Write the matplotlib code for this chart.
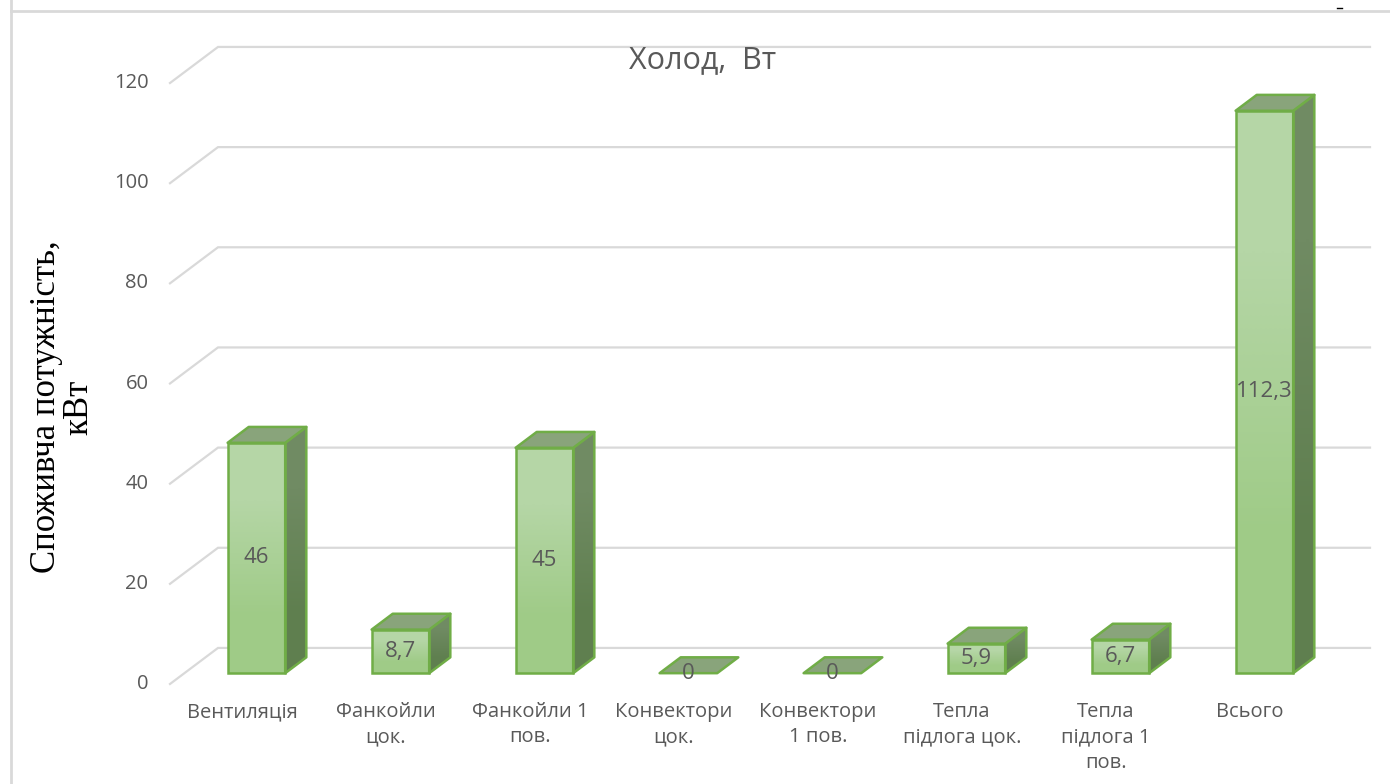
import matplotlib
matplotlib.use("Agg")
import matplotlib.pyplot as plt
import numpy as np
from matplotlib.patches import Polygon, Rectangle
from matplotlib.lines import Line2D

plt.rcParams['font.family'] = ['Open Sans', 'DejaVu Sans']

# cooling load per consumer group, kW
categories = ['Вентиляція', 'Фанкойли\nцок.', 'Фанкойли 1\nпов.', 'Конвектори\nцок.',
              'Конвектори\n1 пов.', 'Тепла\nпідлога цок.', 'Тепла\nпідлога 1\nпов.', 'Всього']
values = [46, 8.7, 45, 0, 0, 5.9, 6.7, 112.3]
value_labels = ['46', '8,7', '45', '0', '0', '5,9', '6,7', '112,3']
yticks = [0, 20, 40, 60, 80, 100, 120]

grey = '#595959'
grid_c = '#d9d9d9'
edge_c = '#70ad47'

# oblique projection for the fake 3D look: depth z in [0, 1]
DX = 1 / 3.0   # category units per unit depth
DY = 7.2       # value units per unit depth


def proj(x, y, z):
    return x + z * DX, y + z * DY


fig = plt.figure(figsize=(13.9, 7.84), dpi=100)
ax = fig.add_axes([0, 0, 1, 1])
ax.set_xlim(-0.5 - 170 / 144, -0.5 + 1220 / 144)
ax.set_ylim(-100 / 5.0083, 684 / 5.0083)
ax.axis('off')

n = len(categories)
left, right = -0.5, n - 0.5

# back wall gridlines with the side-wall diagonal
for v in yticks:
    p0 = proj(left, v, 0)
    p1 = proj(left, v, 1)
    p2 = proj(right, v, 1)
    ax.plot([p0[0], p1[0], p2[0]], [p0[1], p1[1], p2[1]], color=grid_c, lw=1.6,
            solid_joinstyle='miter', zorder=1)
    ax.text(left - 0.15, v, str(v), ha='right', va='center', fontsize=14.5, color=grey)

# bars
z0, z1, w = 0.30, 0.74, 0.20
front_grad = np.array([[0.0], [1.0]])
front_cmap = matplotlib.colors.LinearSegmentedColormap.from_list('front', ['#9fcb87', '#b5d6a6'])
side_cmap = matplotlib.colors.LinearSegmentedColormap.from_list('side', ['#5f7f4f', '#708b63'])

for i, v in enumerate(values):
    fx0, fy0 = proj(i - w, 0, z0)
    fx1, fy1 = proj(i + w, v, z0)
    if v > 0:
        ax.imshow(front_grad, cmap=front_cmap, extent=[fx0, fx1, fy0, fy1], origin='lower',
                  aspect='auto', interpolation='bilinear', zorder=3)
        ax.add_patch(Rectangle((fx0, fy0), fx1 - fx0, fy1 - fy0, fill=False,
                               ec=edge_c, lw=1.8, zorder=4))
        side = Polygon([proj(i + w, 0, z0), proj(i + w, v, z0), proj(i + w, v, z1), proj(i + w, 0, z1)],
                       closed=True, fc='none', ec=edge_c, lw=1.8, zorder=4, joinstyle='round')
        sx = [p[0] for p in side.get_xy()]
        sy = [p[1] for p in side.get_xy()]
        im = ax.imshow(front_grad, cmap=side_cmap, extent=[min(sx), max(sx), min(sy), max(sy)],
                       origin='lower', aspect='auto', interpolation='bilinear', zorder=3)
        clip = Polygon(side.get_xy(), closed=True, transform=ax.transData)
        im.set_clip_path(clip)
        ax.add_patch(side)
    top = Polygon([proj(i - w, v, z0), proj(i + w, v, z0), proj(i + w, v, z1), proj(i - w, v, z1)],
                  closed=True, fc='#89a47b', ec=edge_c, lw=1.8, zorder=4, joinstyle='round')
    ax.add_patch(top)

    lx, ly = proj(i, v / 2, z0)
    ax.text(lx, ly, value_labels[i], ha='center', va='center', fontsize=16, color=grey, zorder=6)

    ax.text(i, -3.6, categories[i], ha='center', va='top', fontsize=14.5, color=grey,
            linespacing=1.35)

ax.text(3.2, 124.6, 'Холод,  Вт', ha='center', va='center', fontsize=22, color=grey)

fig.text(0.045, 0.481, 'Споживча потужність,\nкВт', rotation=90, ha='center', va='center',
         fontsize=25, family='Liberation Serif', color='black', linespacing=1.0,
         multialignment='center')

# chart frame
fig.add_artist(Line2D([11 / 1390, 11 / 1390], [0, 1], color=grid_c, lw=2))
fig.add_artist(Line2D([11 / 1390, 1], [1 - 11 / 784, 1 - 11 / 784], color=grid_c, lw=2))
fig.add_artist(Line2D([1337 / 1390, 1342 / 1390], [1 - 8 / 784, 1 - 8 / 784], color='black', lw=1))

fig.savefig('out.png', dpi=100)
